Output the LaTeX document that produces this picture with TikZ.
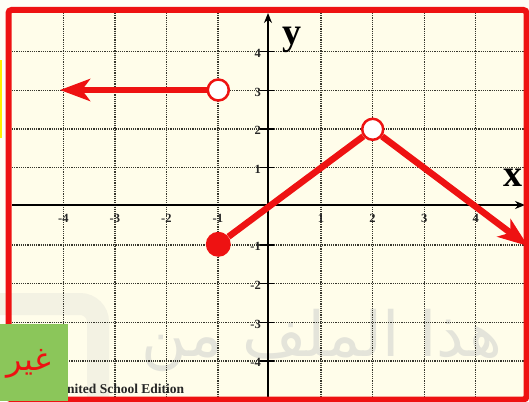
\documentclass[tikz,border=0pt]{standalone}
\usepackage{fontspec}
\setmainfont{Liberation Serif}
\newfontfamily\arabicfont[Script=Arabic]{DejaVu Sans}
\TeXXeTstate=1
\usetikzlibrary{arrows.meta}
\definecolor{cream}{RGB}{255,253,234}
\definecolor{paper}{RGB}{254,254,246}
\definecolor{fred}{RGB}{238,18,18}
\definecolor{gbox}{RGB}{139,198,90}
\definecolor{wmark}{RGB}{228,228,218}
\definecolor{gridc}{RGB}{55,55,45}
\tikzset{
  gridline/.style={draw=gridc, line width=1.3pt, dash pattern=on 1.2pt off 1pt},
  axisline/.style={draw=black, line width=2pt, -{Stealth[length=10pt,width=8pt]}},
  ticklab/.style={inner sep=0pt, text=black!85, font=\fontsize{12.5}{12.5}\selectfont\bfseries},
  fnline/.style={draw=fred, line width=6.5pt},
  fnarrow/.style={fnline, -{Stealth[length=30pt,width=22pt,inset=8pt]}},
  opencirc/.style={circle, draw=fred, line width=2.5pt, fill=white, minimum size=21pt, inner sep=0pt},
  fillcirc/.style={circle, fill=fred, minimum size=25pt, inner sep=0pt},
  axislab/.style={inner sep=0pt, font=\fontsize{38}{38}\selectfont\bfseries}
}
\begin{document}
\begin{tikzpicture}[x=1pt,y=-1pt]
\useasboundingbox (0,0) rectangle (529,401);
\fill[paper] (0,0) rectangle (529,401);
\fill[cream] (8,10) rectangle (527,400);
\fill[yellow] (0,60) rectangle (1.6,138);
% watermark
\draw[wmark!45!cream, line width=22pt, rounded corners=18pt] (-40,304) -- (98,304) -- (98,440);
\node[inner sep=0pt, text=wmark] (wm) at (322,340) {\resizebox{360pt}{!}{\arabicfont\beginR هذا الملف من\endR}};
% grid
\foreach \i in {-4,-3,-2,-1,1,2,3,4} {
  \draw[gridline] ({269.5+51.55*\i},13) -- ({269.5+51.55*\i},397);
}
\foreach \j in {-4,-3,-2,-1,1,2,3,4} {
  \draw[gridline] (12,{206.35-38.66*\j}) -- (524,{206.35-38.66*\j});
}
% axes
\coordinate (xa0) at (12,205);
\coordinate (xa1) at (525,205);
\coordinate (ya0) at (268,398);
\coordinate (ya1) at (268,13);
\draw[axisline] (xa0) -- (xa1);
\draw[axisline] (ya0) -- (ya1);
\foreach \j in {-4,-3,-2,-1,1,2,3,4} {
  \draw[black, line width=1.2pt] (260,{206.35-38.66*\j}) -- (274,{206.35-38.66*\j});
}
% tick labels
\foreach \i in {-4,-3,-2,-1,1,2,3,4} {
  \node[ticklab] (xl\i) at ({269.5+51.55*\i},218.5) {\i};
}
\foreach \j in {-4,-3,-2,-1,1,2,3,4} {
  \node[ticklab, anchor=east] (yl\j) at (261,{208-38.66*\j}) {\j};
}
\node[axislab] (ylab) at (292,40) {y};
\node[axislab] (xlab) at (513,178) {x};
% function
\coordinate (A) at (60,90);
\node[opencirc] (B) at (218.3,90) {};
\node[fillcirc] (C) at (218.3,244.3) {};
\node[opencirc] (D) at (372.7,129.3) {};
\coordinate (E) at (528,246);
\draw[fnarrow] (B) -- (A);
\draw[fnline] (C) -- (D);
\draw[fnarrow] (D) -- (E);
% frame
\draw[fred, line width=6pt, rounded corners=3pt] (8.5,10) rectangle (526.5,399.5);
% bottom text and green box
\node[inner sep=0pt, anchor=base west, font=\fontsize{13.5}{13.5}\selectfont\bfseries, text=black!85] (ed) at (67,393.5) {nited School Edition};
\fill[gbox] (0,324) rectangle (68,401);
\node[inner sep=0pt, text=fred, font=\fontsize{32}{32}\selectfont] (gh) at (29,364) {\arabicfont\beginR غير\endR};
\end{tikzpicture}
\end{document}
